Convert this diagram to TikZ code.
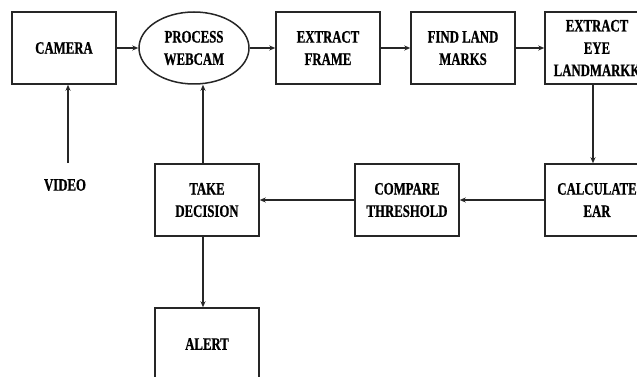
\documentclass[tikz,border=0pt]{standalone}
\usepackage{fontspec}
\setmainfont[FakeStretch=0.73,BoldFeatures={FakeBold=0.8}]{Liberation Serif}
\usetikzlibrary{shapes.geometric,arrows.meta}
\begin{document}
\begin{tikzpicture}[x=1pt,y=-1pt,
  txt/.style={font=\fontsize{17.5}{22.3}\selectfont\bfseries},
  box/.style={txt,draw=black!85,line width=1.5pt,rectangle,minimum width=104pt,minimum height=72pt,inner sep=0pt,align=center},
  oval/.style={txt,draw=black!85,line width=1.5pt,ellipse,minimum width=110pt,minimum height=72pt,inner sep=0pt,align=center},
  lbl/.style={txt,inner sep=0pt},
  arr/.style={draw=black!85,line width=1.5pt,-{Stealth[length=6pt,width=5pt]}}]
\useasboundingbox (0,0) rectangle (637,377);
\clip (0,0) rectangle (637,377);
\node[box] (cam) at (64,48) {CAMERA};
\node[oval] (pw) at (194,48) {PROCESS\\WEBCAM};
\node[box] (ef) at (328,48) {EXTRACT\\FRAME};
\node[box] (fl) at (463,48) {FIND LAND\\MARKS};
\node[box] (ee) at (597,48) {EXTRACT\\EYE\\LANDMARKK};
\node[box] (ce) at (597,200) {CALCULATE\\EAR};
\node[box] (ct) at (407,200) {COMPARE\\THRESHOLD};
\node[box] (td) at (207,200) {TAKE\\DECISION};
\node[box] (al) at (207,344) {ALERT};
\node[lbl] (vid) at (65,185) {VIDEO};
\coordinate (vtop) at (68,163);
\draw[arr] (vtop) -- (vtop |- cam.south);
\draw[arr] (cam.east) -- (pw.west);
\draw[arr] (pw.east) -- (ef.west);
\draw[arr] (ef.east) -- (fl.west);
\draw[arr] (fl.east) -- (ee.west);
\draw[arr] ([xshift=-4pt]ee.south) -- ([xshift=-4pt]ce.north);
\draw[arr] (ce.west) -- (ct.east);
\draw[arr] (ct.west) -- (td.east);
\draw[arr] ([xshift=-4pt]td.north) -- ([xshift=-4pt]td.north |- pw.south);
\draw[arr] ([xshift=-4pt]td.south) -- ([xshift=-4pt]al.north);
\end{tikzpicture}
\end{document}
